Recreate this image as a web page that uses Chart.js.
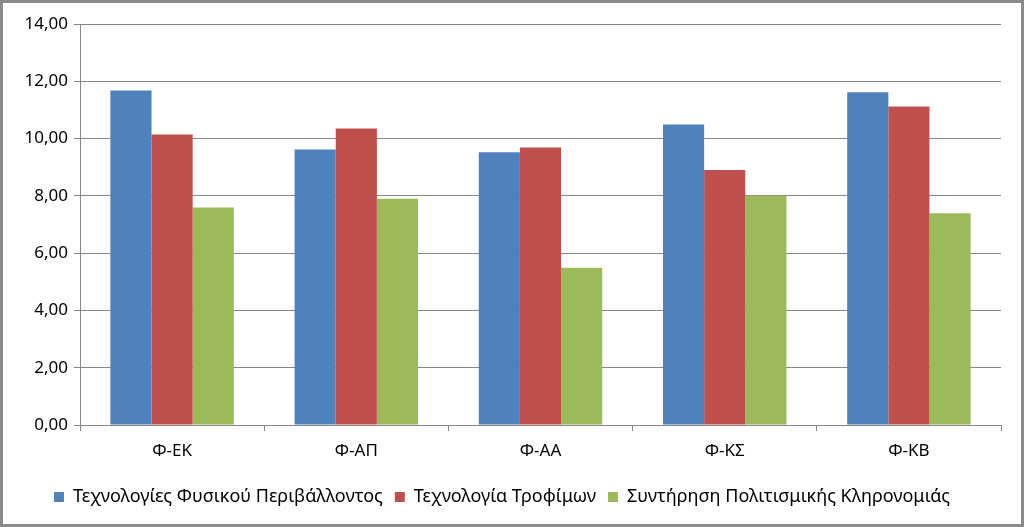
<!DOCTYPE html>
<html>
<head>
<meta charset="utf-8">
<script src="https://cdn.jsdelivr.net/npm/chart.js@4/dist/chart.umd.min.js"></script>
<style>
	body { margin: 0; background: #fff; }
	#wrap { width: 1024px; height: 527px; box-sizing: border-box; border: 3px solid #8a8a8a; background: #fff; }
</style>
</head>
<body>
<div id="wrap"><canvas id="myChart" width="1018" height="521"></canvas></div>
<script>
var categories = ["Φ-ΕΚ", "Φ-ΑΠ", "Φ-ΑΑ", "Φ-ΚΣ", "Φ-ΚΒ"];
var seriesNames = ["Τεχνολογίες Φυσικού Περιβάλλοντος", "Τεχνολογία Τροφίμων", "Συντήρηση Πολιτισμικής Κληρονομιάς"];
var fysikou = [11.68, 9.62, 9.52, 10.49, 11.62];
var trofimon = [10.14, 10.35, 9.69, 8.90, 11.12];
var syntirisi = [7.59, 7.90, 5.49, 8.00, 7.39];
var yTicks = [0, 2, 4, 6, 8, 10, 12, 14];

var font = "'Noto Sans', sans-serif";
var ctx = document.getElementById("myChart");

var data = {
	labels : categories,
	datasets : [
		{ label : seriesNames[0], data : fysikou, backgroundColor : "#4F81BD" },
		{ label : seriesNames[1], data : trofimon, backgroundColor : "#C0504D" },
		{ label : seriesNames[2], data : syntirisi, backgroundColor : "#9BBB59" }
	]
};

var myChart = new Chart(ctx, {
	type : "bar",
	data : data,
	options : {
		responsive : false,
		animation : false,
		datasets : { bar : { categoryPercentage : 0.67, barPercentage : 1 } },
		layout : { padding : { top : 21, right : 20, left : 0, bottom : 8 } },
		plugins : {
			tooltip : { enabled : false },
			legend : {
				position : "bottom",
				labels : {
					color : "#000",
					font : { family : font, size : 18 },
					boxWidth : 10,
					boxHeight : 10,
					padding : 12
				}
			}
		},
		scales : {
			x : {
				grid : { display : true, drawOnChartArea : false, color : "#868686", tickLength : 6, offset : true },
				border : { color : "#868686" },
				ticks : { color : "#000", font : { family : font, size : 17 }, padding : 10 },
				afterFit : function(scale) { scale.height = 51; }
			},
			y : {
				min : 0,
				max : 14,
				afterBuildTicks : function(scale) { scale.ticks = yTicks.map(function(v) { return { value : v }; }); },
				grid : { color : "#868686", tickLength : 6 },
				border : { color : "#868686" },
				ticks : {
					color : "#000",
					font : { family : font, size : 17 },
					padding : 6,
					callback : function(v) { return v.toFixed(2).replace(".", ","); }
				},
				afterFit : function(scale) { scale.width = 77; }
			}
		}
	}
});
</script>
</body>
</html>
